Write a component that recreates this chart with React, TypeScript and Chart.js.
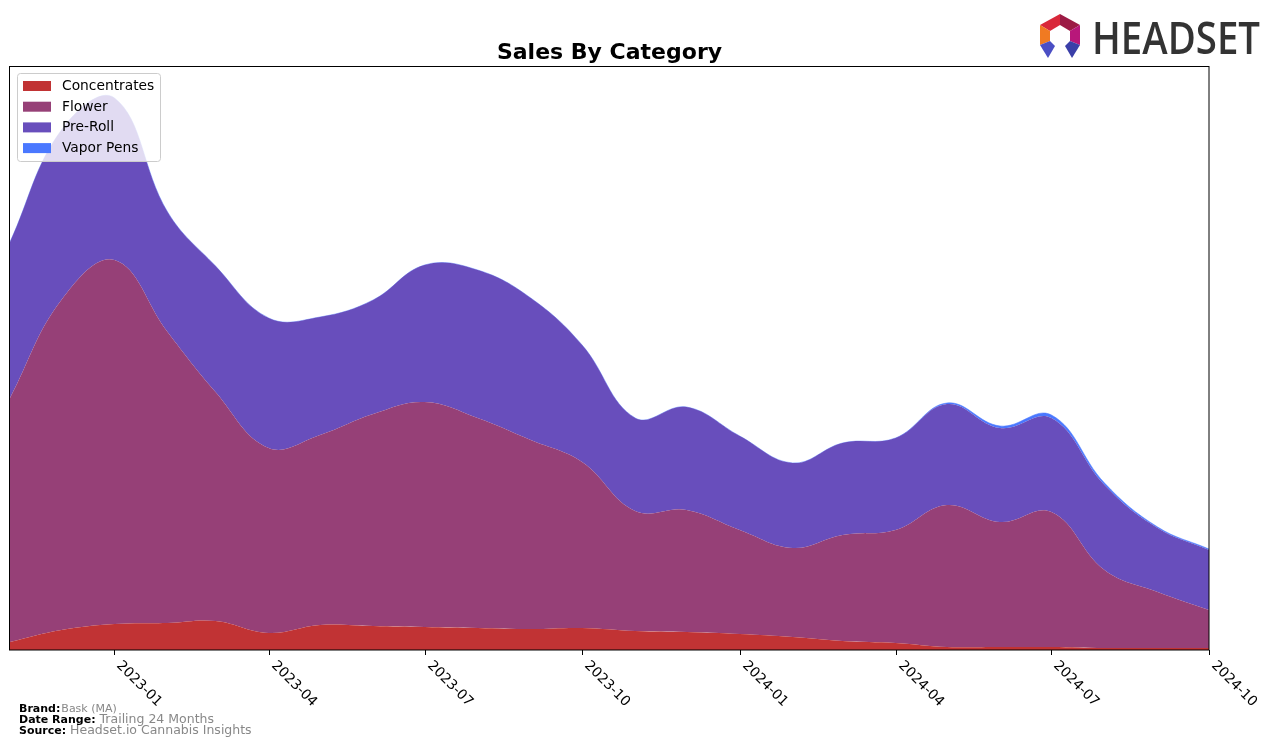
import React, { useEffect, useRef } from "react";
import { Chart, registerables } from "chart.js";

Chart.register(...registerables);

const MONTHS = [
  "2022-11", "2022-12", "2023-01", "2023-02", "2023-03", "2023-04", "2023-05", "2023-06",
  "2023-07", "2023-08", "2023-09", "2023-10", "2023-11", "2023-12", "2024-01", "2024-02",
  "2024-03", "2024-04", "2024-05", "2024-06", "2024-07", "2024-08", "2024-09", "2024-10",
];
const CONCENTRATES = [8, 20, 26, 27, 29, 17, 25, 24, 23, 22, 21, 22, 19, 18, 16, 13, 9, 7, 3, 3, 3, 2, 2, 2];
const FLOWER = [244, 330, 364, 291, 229, 185, 190, 212, 225, 210, 189, 166, 120, 122, 104, 89, 106, 113, 142, 125, 135, 78, 56, 38];
const PREROLL = [156, 170, 162, 120, 126, 130, 118, 114, 137, 148, 142, 117, 93, 103, 94, 85, 92, 92, 101, 94, 94, 85, 64, 60];
const VAPOR = [0, 0, 0, 0, 0, 0, 0, 0, 0, 0, 0, 0, 0, 0, 0, 0, 0, 0, 1, 2, 3, 2, 1, 1];
const TICK_LABELS = ["2023-01", "2023-04", "2023-07", "2023-10", "2024-01", "2024-04", "2024-07", "2024-10"];
const SERIES_NAMES = ["Concentrates", "Flower", "Pre-Roll", "Vapor Pens"];
const SERIES_COLORS = ["#C13334", "#964077", "#684EBC", "#4A78FF"];
const Y_MAX = 584;

const toDay = (s: string) =>
  Date.UTC(Number(s.slice(0, 4)), Number(s.slice(5, 7)) - 1, 1) / 86400000;

const FONT = "'DejaVu Sans', sans-serif";

const decorPlugin = {
  id: "decor",
  afterDraw(chart: any) {
    const { ctx, chartArea } = chart;
    const { left, right, top, bottom } = chartArea;
    const xs = chart.scales.x;
    ctx.save();
    // frame
    ctx.strokeStyle = "#000";
    ctx.lineWidth = 1;
    ctx.strokeRect(Math.round(left) - 0.5, Math.round(top) + 0.5, Math.round(right - left) + 0.5, Math.round(bottom - top) - 0.5);
    // ticks + labels
    ctx.fillStyle = "#000";
    ctx.font = `13.9px ${FONT}`;
    ctx.textAlign = "left";
    ctx.textBaseline = "alphabetic";
    TICK_LABELS.forEach((t) => {
      const x = Math.round(xs.getPixelForValue(toDay(t)));
      ctx.beginPath();
      ctx.moveTo(x + 0.5, bottom);
      ctx.lineTo(x + 0.5, bottom + 5);
      ctx.stroke();
      ctx.save();
      ctx.translate(x + 2, bottom + 16);
      ctx.rotate(Math.PI / 4);
      ctx.fillText(t, 0, 0);
      ctx.restore();
    });
    // title
    ctx.font = `bold 22px ${FONT}`;
    ctx.textAlign = "center";
    ctx.fillText("Sales By Category", (left + right) / 2, 59);
    // legend
    const lx = 17, ly = 73, lw = 143, lh = 88;
    ctx.beginPath();
    (ctx as any).roundRect(lx + 0.5, ly + 0.5, lw, lh, 3);
    ctx.fillStyle = "rgba(255,255,255,0.8)";
    ctx.fill();
    ctx.strokeStyle = "#cccccc";
    ctx.stroke();
    ctx.font = `13.8px ${FONT}`;
    ctx.textAlign = "left";
    ctx.textBaseline = "middle";
    SERIES_NAMES.forEach((n, i) => {
      const cy = 86 + i * 20.7;
      ctx.fillStyle = SERIES_COLORS[i];
      ctx.fillRect(23, cy - 5, 28, 10);
      ctx.fillStyle = "#000";
      ctx.fillText(n, 62, cy + 0.5);
    });
    // footer
    ctx.textBaseline = "alphabetic";
    const rows: [string, string, number, number][] = [
      ["Brand:", "Bask (MA)", 712, 11],
      ["Date Range:", "Trailing 24 Months", 723, 12.5],
      ["Source:", "Headset.io Cannabis Insights", 734, 12.5],
    ];
    rows.forEach(([k, v, y, vs]) => {
      ctx.font = `bold 11px ${FONT}`;
      ctx.fillStyle = "#000";
      ctx.fillText(k, 19, y);
      const w = ctx.measureText(k).width;
      ctx.font = `${vs}px ${FONT}`;
      ctx.fillStyle = "#888888";
      ctx.fillText(v, 19 + w + (k === "Brand:" ? 1 : 4), y);
    });
    ctx.restore();
  },
};

function Logo() {
  return (
    <svg width={240} height={60} style={{ position: "absolute", left: 1030, top: 6 }} viewBox="1030 6 240 60">
      <polygon points="1040,25 1060,14 1060,25 1050,31" fill="#D9283A" />
      <polygon points="1060,14 1080,25 1070,31 1060,25" fill="#9C1B45" />
      <polygon points="1080,25 1080,45 1070,41 1070,31" fill="#B8177A" />
      <polygon points="1040,25 1050,31 1050,41 1040,45" fill="#F07A22" />
      <polygon points="1040,45 1050,41 1055,46 1048,58" fill="#4B4FC4" />
      <polygon points="1080,45 1070,41 1065,46 1072,58" fill="#3A3FA8" />
      <text x={1092} y={54} fontFamily="'Open Sans', 'DejaVu Sans', sans-serif" fontSize={46} fontWeight={600}
        fill="#333333" textLength={168} lengthAdjust="spacingAndGlyphs">HEADSET</text>
    </svg>
  );
}

export default function App() {
  const ref = useRef<HTMLCanvasElement | null>(null);
  useEffect(() => {
    if (!ref.current) return;
    const xsDays = MONTHS.map(toDay);
    const mk = (vals: number[]) => vals.map((v, i) => ({ x: xsDays[i], y: v }));
    const seriesVals = [CONCENTRATES, FLOWER, PREROLL, VAPOR];
    const chart = new Chart(ref.current, {
      type: "line",
      data: {
        datasets: seriesVals.map((vals, i) => ({
          label: SERIES_NAMES[i],
          data: mk(vals),
          backgroundColor: SERIES_COLORS[i],
          borderColor: i === 3 ? "rgba(74,120,255,0.55)" : SERIES_COLORS[i],
          borderWidth: i === 3 ? 1 : 0,
          fill: i === 0 ? "origin" : "-1",
          tension: 0.4,
          pointRadius: 0,
        })),
      },
      options: {
        responsive: false,
        animation: false,
        devicePixelRatio: 1,
        layout: { padding: { left: 10, top: 66, right: 67, bottom: 96 } },
        scales: {
          x: { type: "linear", display: false, min: toDay(MONTHS[0]), max: toDay(MONTHS[MONTHS.length - 1]) },
          y: { stacked: true, display: false, min: 0, max: Y_MAX },
        },
        plugins: { legend: { display: false }, tooltip: { enabled: false }, title: { display: false } },
      },
      plugins: [decorPlugin],
    } as any);
    return () => chart.destroy();
  }, []);
  return (
    <div style={{ position: "absolute", left: 0, top: 0, width: 1276, height: 746, background: "#fff" }}>
      <canvas ref={ref} width={1276} height={746} style={{ width: 1276, height: 746, display: "block" }} />
      <Logo />
    </div>
  );
}
